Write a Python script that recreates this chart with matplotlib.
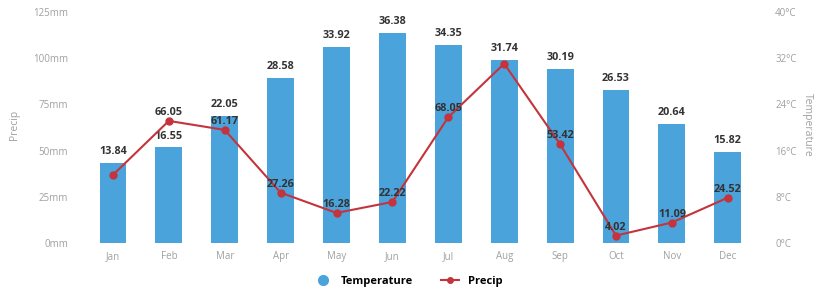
import matplotlib.pyplot as plt
from matplotlib.lines import Line2D

months = ['Jan', 'Feb', 'Mar', 'Apr', 'May', 'Jun', 'Jul', 'Aug', 'Sep', 'Oct', 'Nov', 'Dec']
temperature = [13.84, 16.55, 22.05, 28.58, 33.92, 36.38, 34.35, 31.74, 30.19, 26.53, 20.64, 15.82]
precip = [36.8, 66.05, 61.17, 27.26, 16.28, 22.22, 68.05, 97.0, 53.42, 4.02, 11.09, 24.52]
# Jan and Aug precip labels are not shown in the picture
precip_labels = ['', '66.05', '61.17', '27.26', '16.28', '22.22', '68.05', '', '53.42', '4.02', '11.09', '24.52']

precip_ticks = [0, 25, 50, 75, 100, 125]
temp_ticks = [0, 8, 16, 24, 32, 40]

bar_color = '#4ba3dc'
line_color = '#c4343c'
tick_color = '#a0a0a0'

plt.rcParams['font.family'] = ['Open Sans', 'DejaVu Sans']

fig = plt.figure(figsize=(8.17, 2.90), dpi=100)
ax = fig.add_axes([0.104, 0.162, 0.821, 0.797])
ax2 = ax.twinx()

x = list(range(len(months)))

# bars -> temperature (right axis)
ax2.bar(x, temperature, width=0.48, color=bar_color, zorder=1)
for xi, t in zip(x, temperature):
    ax2.annotate(f'{t:.2f}', (xi, t), xytext=(0, 4), textcoords='offset points',
                 ha='center', va='bottom', fontsize=7.8, fontweight='bold', color='#333333')
ax2.set_ylim(0, 40)
ax2.set_yticks(temp_ticks)
ax2.set_yticklabels([f'{t}°C' for t in temp_ticks])

# line -> precip (left axis), drawn on top
ax.set_zorder(ax2.get_zorder() + 1)
ax.patch.set_visible(False)
ax.plot(x, precip, color=line_color, lw=1.5, marker='o', ms=5)
for xi, p, lab in zip(x, precip, precip_labels):
    if lab:
        ax.annotate(lab, (xi, p), xytext=(0, 2), textcoords='offset points',
                    ha='center', va='bottom', fontsize=7.8, fontweight='bold', color='#333333')
ax.set_ylim(0, 125)
ax.set_yticks(precip_ticks)
ax.set_yticklabels([f'{p}mm' for p in precip_ticks])
ax.set_xlim(-0.5, len(months) - 0.5)
ax.set_xticks(x)
ax.set_xticklabels(months)

for a in (ax, ax2):
    for s in a.spines.values():
        s.set_visible(False)
    a.tick_params(length=0, colors=tick_color, labelsize=7)
ax.tick_params(axis='y', pad=12)
ax2.tick_params(axis='y', pad=14)
ax.tick_params(axis='x', pad=6)

fig.text(0.018, 0.57, 'Precip', rotation=90, ha='center', va='center', fontsize=7.5, color=tick_color)
fig.text(0.988, 0.57, 'Temperature', rotation=270, ha='center', va='center', fontsize=7.5, color=tick_color)

handles = [
    Line2D([], [], marker='o', ls='', color=bar_color, ms=7),
    Line2D([], [], marker='o', color=line_color, lw=1.5, ms=4),
]
fig.legend(handles, ['Temperature', 'Precip'], loc='center', bbox_to_anchor=(0.5, 0.03),
           ncol=2, frameon=False, handlelength=1.6, columnspacing=2.5,
           prop={'weight': 'bold', 'size': 8})

fig.savefig('out.png', dpi=100)
